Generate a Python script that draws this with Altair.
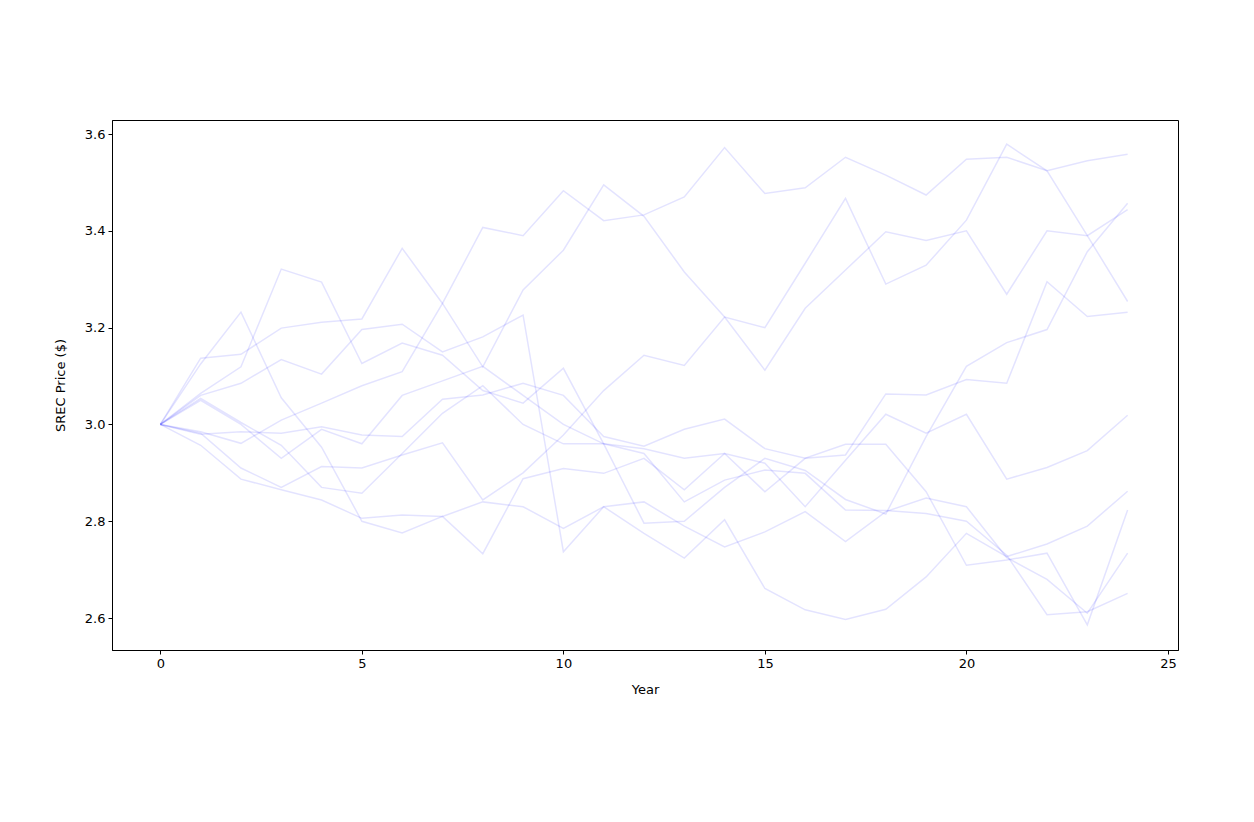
import altair as alt
import pandas as pd

years = list(range(25))

path_01 = [3.0, 2.985, 2.961, 3.009, 3.044, 3.08, 3.109, 3.25, 3.407, 3.39, 3.483, 3.421, 3.433, 3.47, 3.572, 3.477, 3.489, 3.552, 3.515, 3.474, 3.548, 3.552, 3.524, 3.545, 3.558]
path_02 = [3.0, 2.982, 2.91, 2.87, 2.913, 2.91, 2.937, 2.962, 2.844, 2.90, 2.978, 3.07, 3.143, 3.122, 3.222, 3.2, 3.333, 3.467, 3.29, 3.329, 3.422, 3.579, 3.524, 3.39, 3.254]
path_03 = [3.0, 3.137, 3.145, 3.199, 3.211, 3.218, 3.364, 3.25, 3.119, 3.278, 3.36, 3.495, 3.43, 3.315, 3.222, 3.112, 3.24, 3.319, 3.398, 3.38, 3.40, 3.269, 3.40, 3.39, 3.444]
path_04 = [3.0, 3.064, 3.119, 3.321, 3.294, 3.126, 3.168, 3.143, 3.07, 3.044, 3.116, 2.96, 2.796, 2.80, 2.87, 2.93, 2.905, 2.845, 2.815, 2.975, 3.12, 3.169, 3.196, 3.357, 3.457]
path_05 = [3.0, 3.125, 3.232, 3.055, 2.953, 2.80, 2.776, 2.81, 2.733, 2.888, 2.909, 2.899, 2.93, 2.865, 2.94, 2.861, 2.93, 2.937, 3.063, 3.061, 3.093, 3.085, 3.295, 3.223, 3.232]
path_06 = [3.0, 3.05, 3.0, 2.93, 2.99, 2.96, 3.06, 3.09, 3.12, 3.06, 3.0, 2.96, 2.95, 2.93, 2.94, 2.92, 2.83, 2.926, 3.021, 2.982, 3.021, 2.887, 2.911, 2.946, 3.019]
path_07 = [3.0, 3.06, 3.085, 3.134, 3.104, 3.196, 3.207, 3.15, 3.181, 3.226, 2.737, 2.83, 2.775, 2.724, 2.803, 2.661, 2.617, 2.597, 2.618, 2.685, 2.775, 2.727, 2.753, 2.79, 2.862]
path_08 = [3.0, 2.98, 2.985, 2.982, 2.995, 2.978, 2.975, 3.052, 3.061, 3.085, 3.06, 2.975, 2.955, 2.99, 3.011, 2.95, 2.93, 2.959, 2.959, 2.861, 2.709, 2.72, 2.734, 2.586, 2.823]
path_09 = [3.0, 2.957, 2.887, 2.865, 2.844, 2.806, 2.813, 2.81, 2.84, 2.83, 2.785, 2.83, 2.84, 2.79, 2.747, 2.778, 2.82, 2.758, 2.82, 2.848, 2.83, 2.725, 2.68, 2.61, 2.734]
path_10 = [3.0, 3.054, 3.004, 2.957, 2.87, 2.858, 2.94, 3.023, 3.08, 3.0, 2.96, 2.96, 2.94, 2.84, 2.885, 2.906, 2.899, 2.823, 2.822, 2.816, 2.80, 2.73, 2.607, 2.613, 2.651]

paths = [path_01, path_02, path_03, path_04, path_05,
         path_06, path_07, path_08, path_09, path_10]

x_ticks = [0, 5, 10, 15, 20, 25]
y_ticks = [2.6, 2.8, 3.0, 3.2, 3.4, 3.6]

rows = []
for i, p in enumerate(paths):
    for yr, v in zip(years, p):
        rows.append({"sim": i, "Year": yr, "price": v})
df = pd.DataFrame(rows)

font = "DejaVu Sans"

chart = alt.Chart(df).mark_line(
    color="#0000ff", opacity=0.11, strokeWidth=1.5, clip=True
).encode(
    x=alt.X("Year:Q",
            scale=alt.Scale(domain=[-1.2, 25.25], nice=False, zero=False),
            axis=alt.Axis(values=x_ticks, title="Year", format="d", grid=False,
                          tickSize=4, labelPadding=3, titlePadding=13,
                          labelFontSize=13, titleFontSize=13,
                          titleFontWeight="normal")),
    y=alt.Y("price:Q",
            scale=alt.Scale(domain=[2.534, 3.629], nice=False, zero=False),
            axis=alt.Axis(values=y_ticks, title="SREC Price ($)", format=".1f",
                          grid=False, tickSize=4, labelPadding=3, titlePadding=17,
                          labelFontSize=13, titleFontSize=13,
                          titleFontWeight="normal")),
    detail="sim:N",
).properties(
    width=1066,
    height=530,
    autosize=alt.AutoSizeParams(type="none"),
    padding={"left": 104, "top": 112, "right": 60, "bottom": 150},
).configure_view(
    stroke="black", strokeWidth=1
).configure_axis(
    domainColor="black", tickColor="black", labelColor="black",
    titleColor="black", labelFont=font, titleFont=font,
    domainWidth=1, tickWidth=1
)

chart.save("out.html", embed_options={"renderer": "svg", "actions": False})
